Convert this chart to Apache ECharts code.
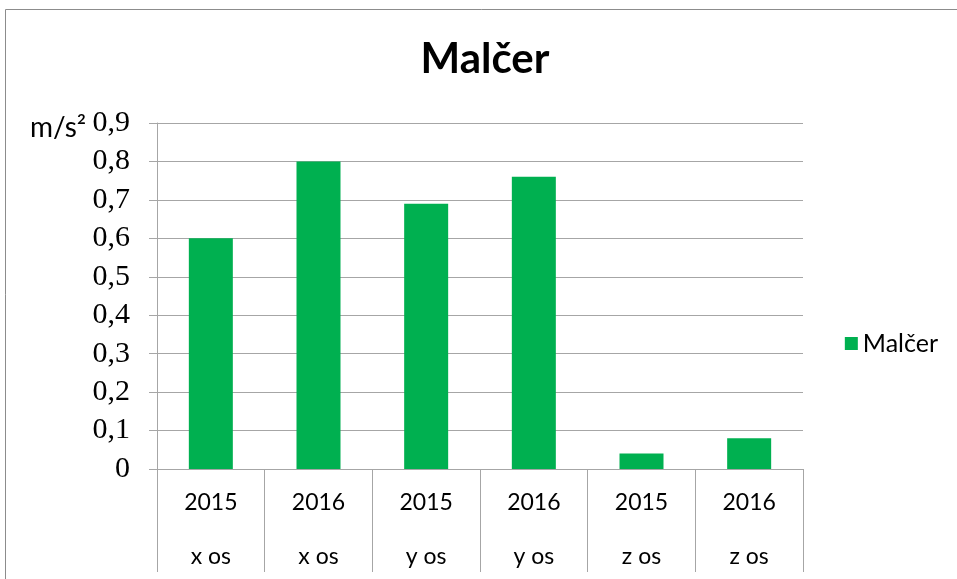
<!DOCTYPE html>
<html><head><meta charset="utf-8">
<script src="https://cdn.jsdelivr.net/npm/echarts@6/dist/echarts.min.js"></script>
<style>html,body{margin:0;padding:0;background:#fff}#c{width:957px;height:579px}</style>
</head><body><div id="c"></div>
<script>
const years = ['2015','2016','2015','2016','2015','2016'];
const axesLabels = ['x os','x os','y os','y os','z os','z os'];
const values = [0.6, 0.8, 0.69, 0.76, 0.04, 0.08];
const seriesName = 'Malčer';
const titleText = 'Malčer';
const unitLabel = 'm/s²';

const chart = echarts.init(document.getElementById('c'), null, {renderer:'canvas'});
const gray = '#a6a6a6';
chart.setOption({
  animation:false,
  backgroundColor:'#fff',
  title:{text:titleText,left:480,textAlign:'center',top:33,
    textStyle:{fontFamily:'Lato',fontWeight:'bold',fontSize:42,color:'#000'}},
  legend:{right:14,top:326,itemWidth:13,itemHeight:13,itemGap:8,icon:'rect',
    textStyle:{fontFamily:'Lato',fontSize:25,color:'#000'},data:[seriesName]},
  grid:{left:157,right:154,top:123,bottom:110},
  graphic:[
    {type:'rect',shape:{x:5.5,y:9.5,width:1200,height:1200},style:{fill:'none',stroke:'#8c8c8c',lineWidth:1},silent:true},
    {type:'text',style:{x:30,y:128,text:unitLabel,font:'28px Lato',fill:'#000',verticalAlign:'middle'}}
  ],
  xAxis:[
    {type:'category',data:years,position:'bottom',
     axisLine:{lineStyle:{color:gray,width:1}},
     axisTick:{show:true,length:103,lineStyle:{color:gray}},
     axisLabel:{fontFamily:'Lato',fontSize:23,color:'#000',margin:22,interval:0}},
    {type:'category',data:axesLabels,position:'bottom',
     axisLine:{show:false},axisTick:{show:false},
     axisLabel:{fontFamily:'Lato',fontSize:23,color:'#000',margin:76,interval:0}}
  ],
  yAxis:{type:'value',min:0,max:0.9,interval:0.1,
    axisLine:{show:true,lineStyle:{color:gray}},
    axisTick:{show:true,length:8,lineStyle:{color:gray}},
    splitLine:{lineStyle:{color:gray}},
    axisLabel:{fontFamily:'Liberation Serif',fontSize:30,color:'#000',margin:27,
      formatter:v=>v===0?'0':v.toFixed(1).replace('.',',')}},
  series:[{name:seriesName,type:'bar',data:values,barWidth:44,xAxisIndex:0,
    itemStyle:{color:'#00B050'}}]
});
</script></body></html>
